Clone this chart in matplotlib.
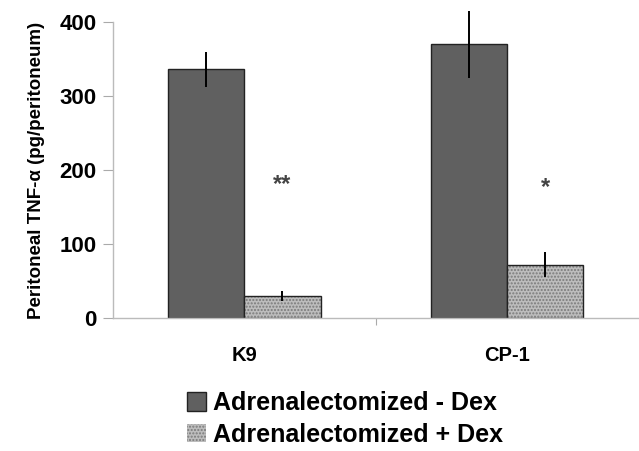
import matplotlib
matplotlib.use("Agg")
import matplotlib.pyplot as plt
import numpy as np

plt.rcParams['font.family'] = ['Liberation Sans', 'DejaVu Sans']
plt.rcParams['font.weight'] = 'bold'

# data
strains = ["K9", "CP-1"]
minus_dex = [336, 370]
minus_dex_err = [24, 45]
plus_dex = [30, 72]
plus_dex_err = [7, 17]
stars = ["**", "*"]
star_y = [180, 176]
series_names = ["Adrenalectomized - Dex", "Adrenalectomized + Dex"]

fig = plt.figure(figsize=(6.39, 4.51), dpi=100)
ax = fig.add_axes([0.177, 0.295, 0.822, 0.656])

x = np.arange(len(strains)) + 0.5
w = 0.29

b1 = ax.bar(x - w / 2, minus_dex, w, color='#606060', edgecolor='#222222',
            linewidth=1.0, label=series_names[0])
eb1 = ax.errorbar(x - w / 2, minus_dex, yerr=minus_dex_err, fmt='none',
                  ecolor='black', elinewidth=1.4, capsize=0)

# stippled bars: hatch in gray, then a black outline on top
b2 = ax.bar(x + w / 2, plus_dex, w, color='#bdbdbd', edgecolor='#7a7a7a',
            hatch='.....', linewidth=0, label=series_names[1])
ax.bar(x + w / 2, plus_dex, w, fill=False, edgecolor='#222222', linewidth=1.0)
eb2 = ax.errorbar(x + w / 2, plus_dex, yerr=plus_dex_err, fmt='none',
                  ecolor='black', elinewidth=1.4, capsize=0)

# the CP-1 error bar pokes above the 400 line in the original
for eb in (eb1, eb2):
    for art in eb.lines[2]:
        art.set_clip_on(False)

for xi, s, sy in zip(x + w / 2, stars, star_y):
    ax.text(xi, sy, s, ha='center', va='center', fontsize=17, color='#444444')

ax.set_xlim(0, 2)
ax.set_ylim(0, 400)
ax.set_yticks([0, 100, 200, 300, 400])
ax.set_xticks([1])
ax.set_xticklabels([])
ax.set_xticks(x, minor=True)
ax.set_xticklabels(strains, minor=True, fontsize=14.5, fontweight='bold')
ax.tick_params(axis='x', which='minor', length=0, pad=20)
ax.tick_params(axis='x', which='major', length=5, color='#aaaaaa')
ax.tick_params(axis='y', length=7, color='#aaaaaa', labelsize=16, pad=5)

for side in ['top', 'right']:
    ax.spines[side].set_visible(False)
for side in ['left', 'bottom']:
    ax.spines[side].set_color('#bbbbbb')
    ax.spines[side].set_linewidth(1.0)

ax.set_ylabel("Peritoneal TNF-α (pg/peritoneum)", fontsize=13.5,
              fontweight='bold', labelpad=10)

fig.legend(handles=[b1, b2], labels=series_names, loc='upper center',
           bbox_to_anchor=(0.54, 0.155), frameon=False, fontsize=18,
           handlelength=0.75, handleheight=0.75, handletextpad=0.3,
           labelspacing=0.3, borderaxespad=0)

fig.savefig("out.png", dpi=100, facecolor='white')
